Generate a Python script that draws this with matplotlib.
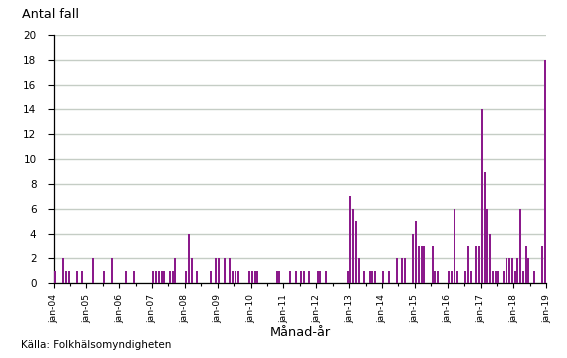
import matplotlib
matplotlib.use('Agg')
import matplotlib.pyplot as plt
import numpy as np

# ── data: monthly case counts, one list per year (jan..dec) ─────────────────
years = ['04', '05', '06', '07', '08', '09', '10', '11', '12',
         '13', '14', '15', '16', '17', '18', '19']
y2004 = [1, 0, 0, 2, 1, 1, 0, 0, 1, 0, 1, 0]
y2005 = [0, 0, 2, 0, 0, 0, 1, 0, 0, 2, 0, 0]
y2006 = [0, 0, 1, 0, 0, 1, 0, 0, 0, 0, 0, 0]
y2007 = [1, 1, 1, 1, 1, 0, 1, 1, 2, 0, 0, 0]
y2008 = [1, 4, 2, 0, 1, 0, 0, 0, 0, 1, 0, 2]
y2009 = [2, 0, 2, 0, 2, 1, 1, 1, 0, 0, 0, 1]
y2010 = [1, 1, 1, 0, 0, 0, 0, 0, 0, 1, 1, 0]
y2011 = [0, 0, 1, 0, 1, 0, 1, 1, 0, 1, 0, 0]
y2012 = [1, 1, 0, 1, 0, 0, 0, 0, 0, 0, 0, 1]
y2013 = [7, 6, 5, 2, 0, 1, 0, 1, 1, 1, 0, 0]
y2014 = [1, 0, 1, 0, 0, 2, 0, 2, 2, 0, 0, 4]
y2015 = [5, 3, 3, 3, 0, 0, 3, 1, 1, 0, 0, 0]
y2016 = [1, 1, 6, 1, 0, 0, 1, 3, 1, 0, 3, 3]
y2017 = [14, 9, 6, 4, 1, 1, 1, 0, 1, 2, 2, 2]
y2018 = [1, 2, 6, 1, 3, 2, 0, 1, 0, 0, 3, 18]

counts = (y2004 + y2005 + y2006 + y2007 + y2008 + y2009 + y2010 + y2011
          + y2012 + y2013 + y2014 + y2015 + y2016 + y2017 + y2018)
months = np.arange(len(counts))
tick_labels = ['jan-' + y for y in years]

# ── style ───────────────────────────────────────────────────────────────────
C_BAR  = '#8b1a8b'
C_GRID = '#c5cdc5'
FONT   = 'DejaVu Sans'

fig = plt.figure(figsize=(5.67, 3.58), dpi=100)
ax = fig.add_axes([0.0944, 0.2087, 0.869, 0.6935])

ax.bar(months + 0.12, counts, width=0.72, align='edge', color=C_BAR,
       linewidth=0, zorder=3)

# ── axes ────────────────────────────────────────────────────────────────────
ax.set_xlim(0, 180)
ax.set_ylim(0, 20)
ax.set_yticks(range(0, 21, 2))
ax.set_xticks(np.arange(0, 181, 12))
ax.set_xticks(np.arange(6, 180, 12), minor=True)
ax.set_xticklabels(tick_labels, rotation=90, fontsize=6.6, family=FONT)
ax.tick_params(axis='y', labelsize=7.5, length=4.3, width=0.8, pad=8, direction='out')
ax.tick_params(axis='x', which='major', length=3.5, width=0.8, pad=4, direction='out')
ax.tick_params(axis='x', which='minor', length=2, width=0.8, direction='out')
for lbl in ax.get_yticklabels():
    lbl.set_family(FONT)

ax.grid(axis='y', color=C_GRID, linewidth=1, zorder=0)
ax.set_axisbelow(True)
for side in ['top', 'right']:
    ax.spines[side].set_visible(False)
for side in ['left', 'bottom']:
    ax.spines[side].set_color('black')
    ax.spines[side].set_linewidth(0.9)

# ── texts ───────────────────────────────────────────────────────────────────
fig.text(0.039, 0.959, 'Antal fall', fontsize=9.2, family=FONT, va='center', ha='left')
fig.text(0.529, 0.070, 'Månad-år', fontsize=9.3, family=FONT, va='center', ha='center')
fig.text(0.037, 0.036, 'Källa: Folkhälsomyndigheten', fontsize=7.5, family=FONT,
         va='center', ha='left')

fig.savefig('out.png', dpi=100)
